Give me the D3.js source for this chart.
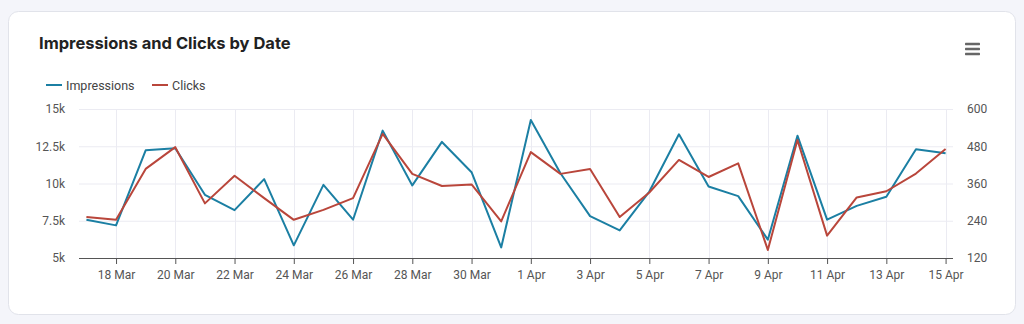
<!DOCTYPE html>
<html><head><meta charset="utf-8">
<script src="https://cdn.jsdelivr.net/npm/d3@7"></script>
<style>
html,body{margin:0;padding:0;background:#f4f5fa;}
svg{display:block;font-family:Inter, "Noto Sans", sans-serif;}
</style></head>
<body><svg id="c" width="1024" height="324"></svg>
<script>
const dates = ["17 Mar","18 Mar","19 Mar","20 Mar","21 Mar","22 Mar","23 Mar","24 Mar","25 Mar","26 Mar","27 Mar","28 Mar","29 Mar","30 Mar","31 Mar","1 Apr","2 Apr","3 Apr","4 Apr","5 Apr","6 Apr","7 Apr","8 Apr","9 Apr","10 Apr","11 Apr","12 Apr","13 Apr","14 Apr","15 Apr"];
const impressions = [7560,7190,12230,12370,9240,8210,10290,5850,9910,7570,13550,9870,12790,10760,5710,14260,10690,7810,6850,9460,13300,9800,9150,6230,13210,7570,8500,9110,12300,12030];
const clicks = [252,243,407,477,296,385,313,243,275,313,520,391,352,357,238,461,391,407,252,331,436,381,425,146,500,192,315,335,392,471];
const leftTicks = [5000,7500,10000,12500,15000];
const leftTickLabels = ["5k","7.5k","10k","12.5k","15k"];
const rightTicks = [120,240,360,480,600];
const xTickLabels = ["18 Mar","20 Mar","22 Mar","24 Mar","26 Mar","28 Mar","30 Mar","1 Apr","3 Apr","5 Apr","7 Apr","9 Apr","11 Apr","13 Apr","15 Apr"];
const seriesNames = ["Impressions","Clicks"];
const colors = ["#1b7fa3","#b9463b"];

const svg = d3.select("#c");
// card
svg.append("rect").attr("x",8.5).attr("y",11.5).attr("width",1007).attr("height",303)
  .attr("rx",10).attr("fill","#fff").attr("stroke","#e1e3ea");

svg.append("text").attr("x",39).attr("y",49).attr("font-size",16.5).attr("font-weight",700)
  .attr("fill","#222").text("Impressions and Clicks by Date");

// menu icon
[44,49,54].forEach(y=>svg.append("rect").attr("x",965).attr("y",y-1.2).attr("width",15).attr("height",2.4).attr("rx",0.6).attr("fill","#666"));

const L = 79, R = 953, T = 109, B = 258;
const x = d3.scalePoint().domain(dates).range([L,R]).padding(0.25);
const yL = d3.scaleLinear().domain([5000,15000]).range([B,T]);
const yR = d3.scaleLinear().domain([120,600]).range([B,T]);

// grid
const g = svg.append("g");
g.selectAll(".hg").data(leftTicks.slice(1)).join("line")
  .attr("x1",L).attr("x2",R).attr("y1",d=>yL(d)+0.5).attr("y2",d=>yL(d)+0.5)
  .attr("stroke","#ebebf2");
g.selectAll(".vg").data(xTickLabels).join("line")
  .attr("x1",d=>Math.round(x(d))+0.5).attr("x2",d=>Math.round(x(d))+0.5).attr("y1",T).attr("y2",B)
  .attr("stroke","#ebebf2");

// axes
const axisFont = "Roboto, Inter, sans-serif";
const xAxis = d3.axisBottom(x).tickValues(xTickLabels).tickSize(6).tickPadding(6);
const xg = svg.append("g").attr("transform",`translate(0,${B})`).call(xAxis);
xg.select(".domain").attr("stroke","#555").attr("d",`M${L},0.5H${R}`);
xg.selectAll(".tick line").attr("stroke","#555");
xg.selectAll("text").attr("fill","#555").attr("font-size",12).attr("font-family",axisFont);

const yAxisL = d3.axisLeft(yL).tickValues(leftTicks).tickFormat((d,i)=>leftTickLabels[i]).tickSize(0).tickPadding(14);
const ylg = svg.append("g").attr("transform",`translate(${L},0)`).call(yAxisL);
ylg.select(".domain").remove();
ylg.selectAll("text").attr("fill","#555").attr("font-size",12).attr("font-family",axisFont);

const yAxisR = d3.axisRight(yR).tickValues(rightTicks).tickSize(0).tickPadding(14);
const yrg = svg.append("g").attr("transform",`translate(${R},0)`).call(yAxisR);
yrg.select(".domain").remove();
yrg.selectAll("text").attr("fill","#555").attr("font-size",12).attr("font-family",axisFont);

// lines
const lineL = d3.line().x((d,i)=>x(dates[i])).y(d=>yL(d));
const lineR = d3.line().x((d,i)=>x(dates[i])).y(d=>yR(d));
svg.append("path").datum(impressions).attr("d",lineL).attr("fill","none").attr("stroke",colors[0]).attr("stroke-width",2).attr("stroke-linejoin","round");
svg.append("path").datum(clicks).attr("d",lineR).attr("fill","none").attr("stroke",colors[1]).attr("stroke-width",2).attr("stroke-linejoin","round");

// legend
const legX = [46,152];
seriesNames.forEach((n,i)=>{
  svg.append("line").attr("x1",legX[i]).attr("x2",legX[i]+16).attr("y1",85).attr("y2",85).attr("stroke",colors[i]).attr("stroke-width",2);
  svg.append("text").attr("x",legX[i]+20).attr("y",89.5).attr("font-size",12.5).attr("font-family",axisFont).attr("fill","#444").text(n);
});
</script></body></html>
